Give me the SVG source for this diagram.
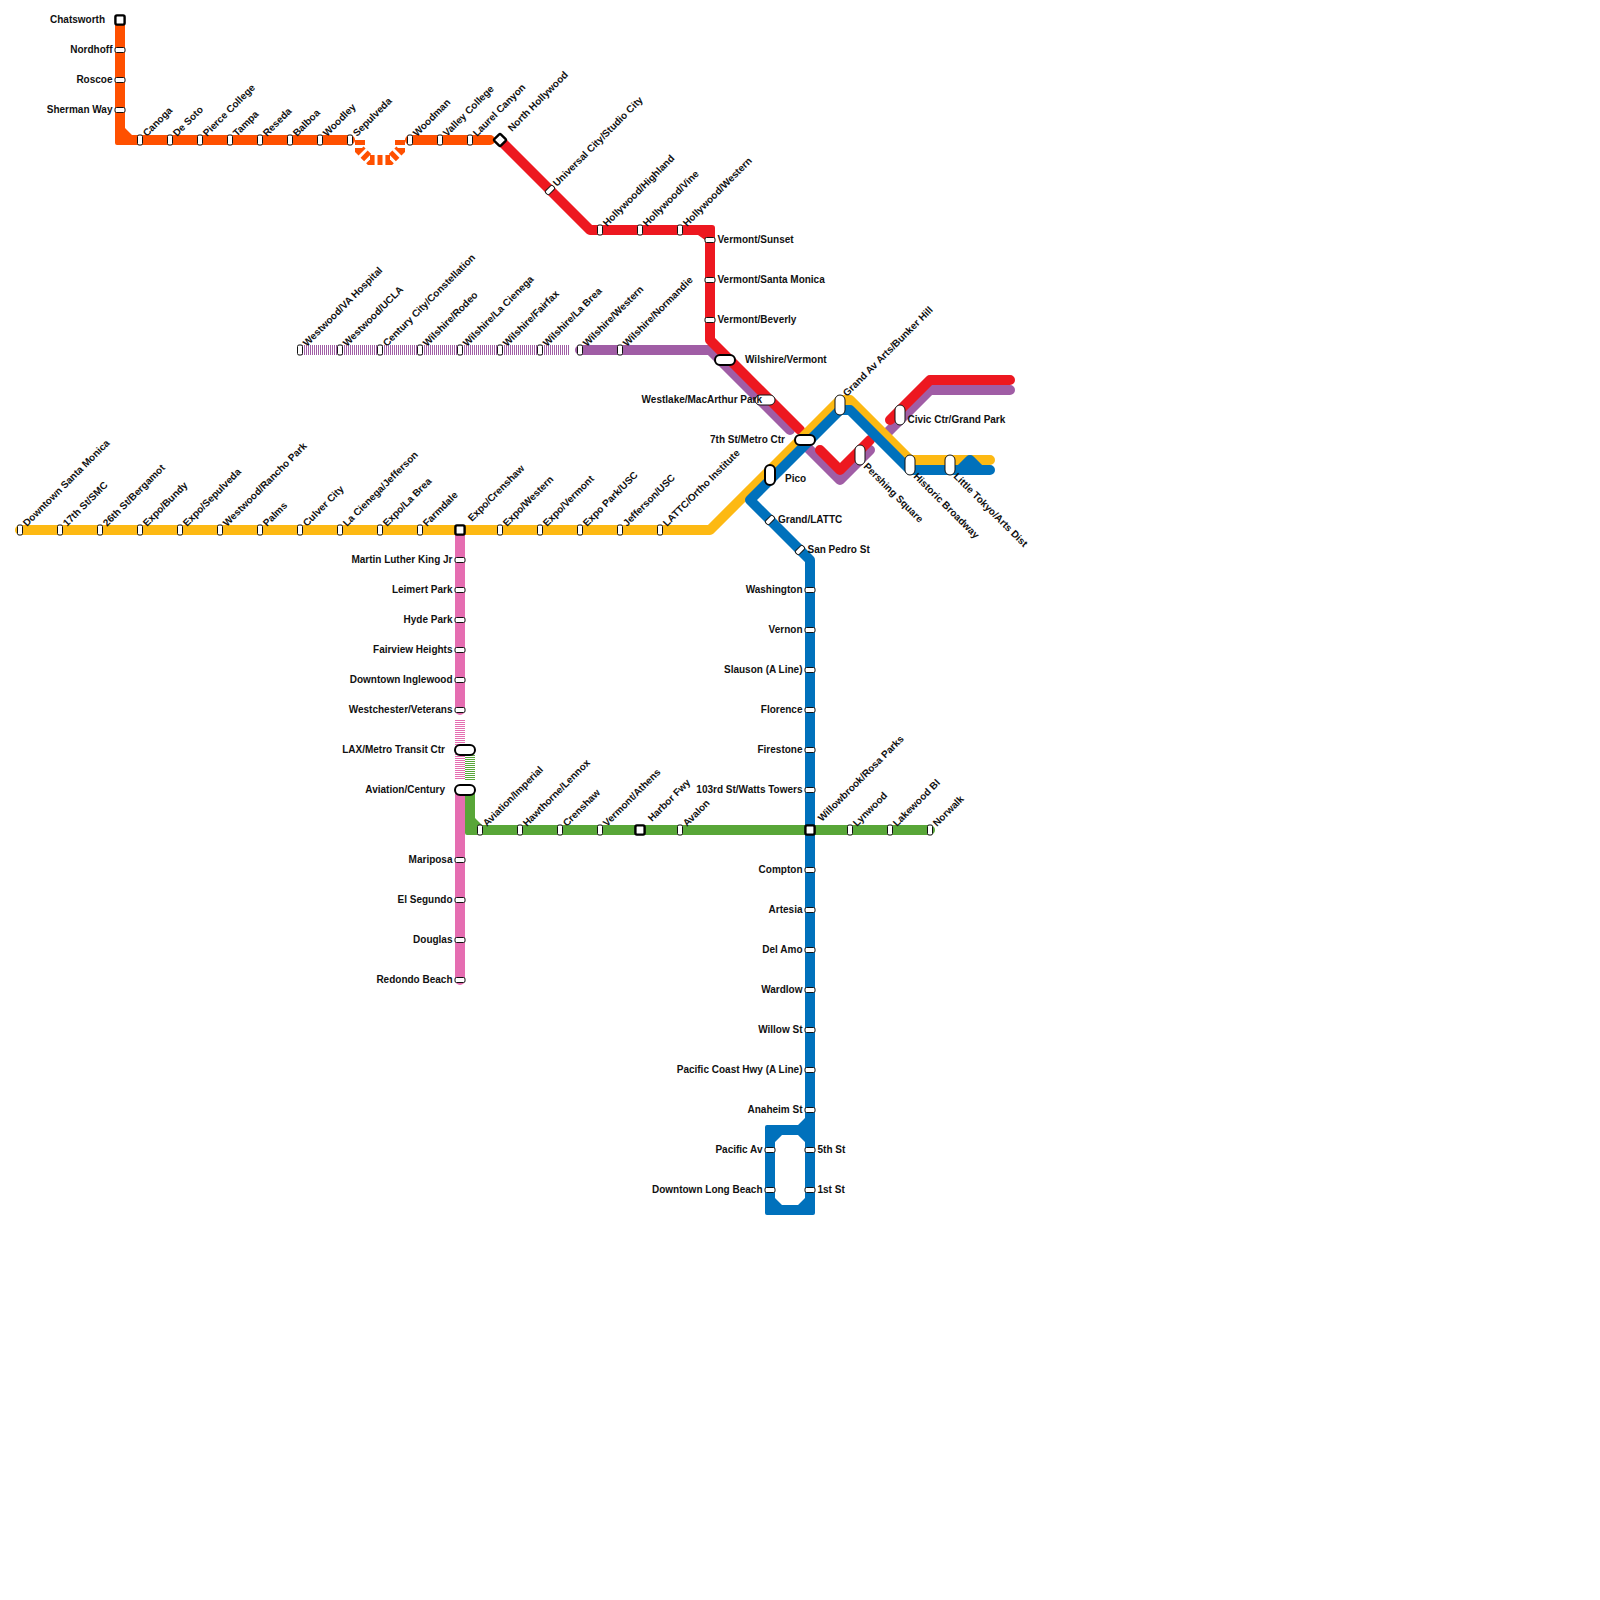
<svg xmlns="http://www.w3.org/2000/svg" width="1600" height="1600" viewBox="0 0 1600 1600">
<style>
text{font-family:"Liberation Sans",Arial,sans-serif;font-size:10px;font-weight:bold;fill:#111}
.e{text-anchor:end}
.ln{fill:none;stroke-width:10;stroke-linecap:round;stroke-linejoin:round}
.st{fill:#fff;stroke:#111;stroke-width:1}
.ic{fill:#fff;stroke:#000;stroke-width:2}
.sqr{fill:#fff;stroke:#000;stroke-width:2.4}
.dash{fill:none;stroke-width:10;stroke-dasharray:1 1}
</style>
<defs>
<rect id="v" class="st" x="-2.5" y="-5" width="5" height="10" rx="1.5"/>
<rect id="h" class="st" x="-5" y="-2.5" width="10" height="5" rx="1.5"/>
<rect id="d" class="st" x="-5" y="-2.5" width="10" height="5" rx="1.5" transform="rotate(-45)"/>
<rect id="sq" class="sqr" x="-4.6" y="-4.6" width="9.2" height="9.2" rx="1.5"/>
<rect id="tv" class="st" x="-5" y="-10" width="10" height="20" rx="5"/>
<rect id="th" class="st" x="-10" y="-5" width="20" height="10" rx="5"/>
<rect id="ihp" class="ic" x="-10" y="-5" width="20" height="10" rx="5"/>
<rect id="ivp" class="ic" x="-5" y="-10" width="10" height="20" rx="5"/>
</defs>
<g id="connectors">
<path class="ln" stroke="#a05da5" d="M580,350H710L790,430"/>
<path class="dash" stroke="#a05da5" d="M300,350H569"/>
<path class="ln" stroke="#a05da5" d="M800,440L840,480L870,450"/>
<path class="ln" stroke="#a05da5" d="M885,435L930,390H1010"/>
<path class="ln" stroke="#ed1820" d="M500,140L590,230H700"/>
<path fill="#ed1820" d="M700,225H712Q715,225 715,228V240H705L698,235H700Z"/>
<path class="ln" stroke="#ed1820" stroke-linecap="butt" d="M710,240V340L800,430"/>
<path class="ln" stroke="#ed1820" d="M820,450L840,470L870,440"/>
<path class="ln" stroke="#ed1820" d="M890,420L930,380H1010"/>
<path class="ln" stroke="#e56db1" d="M460,530V710"/>
<path class="dash" stroke="#e56db1" d="M460,720V780"/>
<path class="ln" stroke="#e56db1" d="M460,790V980"/>
<path class="dash" stroke="#58a638" d="M470,755V780"/>
<path fill="#58a638" d="M465,790H475V818L482,825H930A5,5 0 0 1 930,835H467Q465,835 465,833Z"/>
<path class="ln" stroke="#fdb913" d="M20,530H710L840,400H850L910,460H990"/>
<path class="ln" stroke="#0071bc" d="M990,470H910L850,410H840L750,500L810,560V825"/>
<path class="ln" stroke="#0071bc" stroke-linecap="butt" d="M810,835V1120"/>
<path class="ln" stroke="#0071bc" d="M960,470L970,460L980,470"/>
<path fill="#0071bc" fill-rule="evenodd" d="M767,1125H798L805,1118H815V1213Q815,1215 813,1215H767Q765,1215 765,1213V1127Q765,1125 767,1125ZM782,1135L775,1142V1198L782,1205H798L805,1198V1142L798,1135Z"/>
<path fill="#58a638" d="M800,825H820V835H800Z"/>
<path fill="#ff5000" d="M115,20H125V128L132,135H350A5,5 0 0 1 350,145H117Q115,145 115,143Z"/>
<path fill="none" stroke="#ff5000" stroke-width="10" stroke-dasharray="5 2.91" d="M360,140V150L370,160H390L400,150V140"/>
<path class="ln" stroke="#ff5000" d="M410,140H490"/>
</g>
<g id="orange-line-stations">
<g id="chatsworth"><use href="#sq" x="120" y="20"/><text class="e" x="105" y="22.5">Chatsworth</text></g>
<g id="nordhoff"><use href="#h" x="120" y="50"/><text class="e" x="112.5" y="52.5">Nordhoff</text></g>
<g id="roscoe"><use href="#h" x="120" y="80"/><text class="e" x="112.5" y="82.5">Roscoe</text></g>
<g id="sherman-way"><use href="#h" x="120" y="110"/><text class="e" x="112.5" y="112.5">Sherman Way</text></g>
<g id="canoga"><use href="#v" x="140" y="140"/><text transform="translate(147,137) rotate(-45)">Canoga</text></g>
<g id="de-soto"><use href="#v" x="170" y="140"/><text transform="translate(177,137) rotate(-45)">De Soto</text></g>
<g id="pierce-college"><use href="#v" x="200" y="140"/><text transform="translate(207,137) rotate(-45)">Pierce College</text></g>
<g id="tampa"><use href="#v" x="230" y="140"/><text transform="translate(237,137) rotate(-45)">Tampa</text></g>
<g id="reseda"><use href="#v" x="260" y="140"/><text transform="translate(267,137) rotate(-45)">Reseda</text></g>
<g id="balboa"><use href="#v" x="290" y="140"/><text transform="translate(297,137) rotate(-45)">Balboa</text></g>
<g id="woodley"><use href="#v" x="320" y="140"/><text transform="translate(327,137) rotate(-45)">Woodley</text></g>
<g id="sepulveda"><use href="#v" x="350" y="140"/><text transform="translate(357,137) rotate(-45)">Sepulveda</text></g>
<g id="woodman"><use href="#v" x="410" y="140"/><text transform="translate(417,137) rotate(-45)">Woodman</text></g>
<g id="valley-college"><use href="#v" x="440" y="140"/><text transform="translate(447,137) rotate(-45)">Valley College</text></g>
<g id="laurel-canyon"><use href="#v" x="470" y="140"/><text transform="translate(477,137) rotate(-45)">Laurel Canyon</text></g>
</g>
<g id="red-line-stations">
<g id="north-hollywood"><rect class="sqr" x="-4.6" y="-4.6" width="9.2" height="9.2" rx="1.5" transform="translate(500,140) rotate(45)"/><text transform="translate(512,132) rotate(-45)">North Hollywood</text></g>
<g id="universal-city"><use href="#d" x="550" y="190"/><text transform="translate(557,187) rotate(-45)">Universal City/Studio City</text></g>
<g id="hollywood-highland"><use href="#v" x="600" y="230"/><text transform="translate(607,227) rotate(-45)">Hollywood/Highland</text></g>
<g id="hollywood-vine"><use href="#v" x="640" y="230"/><text transform="translate(647,227) rotate(-45)">Hollywood/Vine</text></g>
<g id="hollywood-western"><use href="#v" x="680" y="230"/><text transform="translate(687,227) rotate(-45)">Hollywood/Western</text></g>
<g id="vermont-sunset"><use href="#h" x="710" y="240"/><text x="717.5" y="242.5">Vermont/Sunset</text></g>
<g id="vermont-santa-monica"><use href="#h" x="710" y="280"/><text x="717.5" y="282.5">Vermont/Santa Monica</text></g>
<g id="vermont-beverly"><use href="#h" x="710" y="320"/><text x="717.5" y="322.5">Vermont/Beverly</text></g>
<g id="wilshire-vermont"><use href="#ihp" x="725" y="360"/><text x="745" y="362.5">Wilshire/Vermont</text></g>
<g id="westlake"><use href="#th" x="765" y="400"/><text class="e" x="762" y="402.5">Westlake/MacArthur Park</text></g>
<g id="civic-center"><use href="#tv" x="900" y="415"/><text x="907.5" y="422.5">Civic Ctr/Grand Park</text></g>
<g id="pershing-square"><use href="#tv" x="860" y="455"/><text transform="translate(863,467) rotate(45)">Pershing Square</text></g>
</g>
<g id="purple-line-stations">
<g id="westwood-va"><use href="#v" x="300" y="350"/><text transform="translate(307,347) rotate(-45)">Westwood/VA Hospital</text></g>
<g id="westwood-ucla"><use href="#v" x="340" y="350"/><text transform="translate(347,347) rotate(-45)">Westwood/UCLA</text></g>
<g id="century-city"><use href="#v" x="380" y="350"/><text transform="translate(387,347) rotate(-45)">Century City/Constellation</text></g>
<g id="wilshire-rodeo"><use href="#v" x="420" y="350"/><text transform="translate(427,347) rotate(-45)">Wilshire/Rodeo</text></g>
<g id="wilshire-la-cienega"><use href="#v" x="460" y="350"/><text transform="translate(467,347) rotate(-45)">Wilshire/La Cienega</text></g>
<g id="wilshire-fairfax"><use href="#v" x="500" y="350"/><text transform="translate(507,347) rotate(-45)">Wilshire/Fairfax</text></g>
<g id="wilshire-la-brea"><use href="#v" x="540" y="350"/><text transform="translate(547,347) rotate(-45)">Wilshire/La Brea</text></g>
<g id="wilshire-western"><use href="#v" x="580" y="350"/><text transform="translate(587,347) rotate(-45)">Wilshire/Western</text></g>
<g id="wilshire-normandie"><use href="#v" x="620" y="350"/><text transform="translate(627,347) rotate(-45)">Wilshire/Normandie</text></g>
</g>
<g id="yellow-line-stations">
<g id="downtown-santa-monica"><use href="#v" x="20" y="530"/><text transform="translate(27,527) rotate(-45)">Downtown Santa Monica</text></g>
<g id="s17th"><use href="#v" x="60" y="530"/><text transform="translate(67,527) rotate(-45)">17th St/SMC</text></g>
<g id="s26th"><use href="#v" x="100" y="530"/><text transform="translate(107,527) rotate(-45)">26th St/Bergamot</text></g>
<g id="expo-bundy"><use href="#v" x="140" y="530"/><text transform="translate(147,527) rotate(-45)">Expo/Bundy</text></g>
<g id="expo-sepulveda"><use href="#v" x="180" y="530"/><text transform="translate(187,527) rotate(-45)">Expo/Sepulveda</text></g>
<g id="westwood-rancho"><use href="#v" x="220" y="530"/><text transform="translate(227,527) rotate(-45)">Westwood/Rancho Park</text></g>
<g id="palms"><use href="#v" x="260" y="530"/><text transform="translate(267,527) rotate(-45)">Palms</text></g>
<g id="culver-city"><use href="#v" x="300" y="530"/><text transform="translate(307,527) rotate(-45)">Culver City</text></g>
<g id="la-cienega"><use href="#v" x="340" y="530"/><text transform="translate(347,527) rotate(-45)">La Cienega/Jefferson</text></g>
<g id="expo-la-brea"><use href="#v" x="380" y="530"/><text transform="translate(387,527) rotate(-45)">Expo/La Brea</text></g>
<g id="farmdale"><use href="#v" x="420" y="530"/><text transform="translate(427,527) rotate(-45)">Farmdale</text></g>
<g id="expo-crenshaw"><use href="#sq" x="460" y="530"/><text transform="translate(472,522) rotate(-45)">Expo/Crenshaw</text></g>
<g id="expo-western"><use href="#v" x="500" y="530"/><text transform="translate(507,527) rotate(-45)">Expo/Western</text></g>
<g id="expo-vermont"><use href="#v" x="540" y="530"/><text transform="translate(547,527) rotate(-45)">Expo/Vermont</text></g>
<g id="expo-park"><use href="#v" x="580" y="530"/><text transform="translate(587,527) rotate(-45)">Expo Park/USC</text></g>
<g id="jefferson-usc"><use href="#v" x="620" y="530"/><text transform="translate(627,527) rotate(-45)">Jefferson/USC</text></g>
<g id="lattc"><use href="#v" x="660" y="530"/><text transform="translate(667,527) rotate(-45)">LATTC/Ortho Institute</text></g>
<g id="pico"><use href="#ivp" x="770" y="475"/><text x="785" y="481.5">Pico</text></g>
<g id="metro-center"><use href="#ihp" x="805" y="440"/><text class="e" x="785" y="442.5">7th St/Metro Ctr</text></g>
<g id="grand-av-arts"><use href="#tv" x="840" y="405"/><text transform="translate(847,397) rotate(-45)">Grand Av Arts/Bunker Hill</text></g>
<g id="historic-broadway"><use href="#tv" x="910" y="465"/><text transform="translate(913,477) rotate(45)">Historic Broadway</text></g>
<g id="little-tokyo"><use href="#tv" x="950" y="465"/><text transform="translate(953,477) rotate(45)">Little Tokyo/Arts Dist</text></g>
</g>
<g id="pink-line-stations">
<g id="mlk"><use href="#h" x="460" y="560"/><text class="e" x="452.5" y="562.5">Martin Luther King Jr</text></g>
<g id="leimert"><use href="#h" x="460" y="590"/><text class="e" x="452.5" y="592.5">Leimert Park</text></g>
<g id="hyde-park"><use href="#h" x="460" y="620"/><text class="e" x="452.5" y="622.5">Hyde Park</text></g>
<g id="fairview"><use href="#h" x="460" y="650"/><text class="e" x="452.5" y="652.5">Fairview Heights</text></g>
<g id="downtown-inglewood"><use href="#h" x="460" y="680"/><text class="e" x="452.5" y="682.5">Downtown Inglewood</text></g>
<g id="westchester"><use href="#h" x="460" y="710"/><text class="e" x="452.5" y="712.5">Westchester/Veterans</text></g>
<g id="lax"><use href="#ihp" x="465" y="750"/><text class="e" x="445" y="752.5">LAX/Metro Transit Ctr</text></g>
<g id="aviation-century"><use href="#ihp" x="465" y="790"/><text class="e" x="445" y="792.5">Aviation/Century</text></g>
<g id="mariposa"><use href="#h" x="460" y="860"/><text class="e" x="452.5" y="862.5">Mariposa</text></g>
<g id="el-segundo"><use href="#h" x="460" y="900"/><text class="e" x="452.5" y="902.5">El Segundo</text></g>
<g id="douglas"><use href="#h" x="460" y="940"/><text class="e" x="452.5" y="942.5">Douglas</text></g>
<g id="redondo"><use href="#h" x="460" y="980"/><text class="e" x="452.5" y="982.5">Redondo Beach</text></g>
</g>
<g id="green-line-stations">
<g id="aviation-imperial"><use href="#v" x="480" y="830"/><text transform="translate(487,827) rotate(-45)">Aviation/Imperial</text></g>
<g id="hawthorne"><use href="#v" x="520" y="830"/><text transform="translate(527,827) rotate(-45)">Hawthorne/Lennox</text></g>
<g id="crenshaw"><use href="#v" x="560" y="830"/><text transform="translate(567,827) rotate(-45)">Crenshaw</text></g>
<g id="vermont-athens"><use href="#v" x="600" y="830"/><text transform="translate(607,827) rotate(-45)">Vermont/Athens</text></g>
<g id="harbor-fwy"><use href="#sq" x="640" y="830"/><text transform="translate(652,822) rotate(-45)">Harbor Fwy</text></g>
<g id="avalon"><use href="#v" x="680" y="830"/><text transform="translate(687,827) rotate(-45)">Avalon</text></g>
<g id="lynwood"><use href="#v" x="850" y="830"/><text transform="translate(857,827) rotate(-45)">Lynwood</text></g>
<g id="lakewood"><use href="#v" x="890" y="830"/><text transform="translate(897,827) rotate(-45)">Lakewood Bl</text></g>
<g id="norwalk"><use href="#v" x="930" y="830"/><text transform="translate(937,827) rotate(-45)">Norwalk</text></g>
</g>
<g id="blue-line-stations">
<g id="grand-lattc"><use href="#d" x="770" y="520"/><text x="778" y="522.5">Grand/LATTC</text></g>
<g id="san-pedro"><use href="#d" x="800" y="550"/><text x="807.5" y="552.5">San Pedro St</text></g>
<g id="washington"><use href="#h" x="810" y="590"/><text class="e" x="802.5" y="592.5">Washington</text></g>
<g id="vernon"><use href="#h" x="810" y="630"/><text class="e" x="802.5" y="632.5">Vernon</text></g>
<g id="slauson"><use href="#h" x="810" y="670"/><text class="e" x="802.5" y="672.5">Slauson (A Line)</text></g>
<g id="florence"><use href="#h" x="810" y="710"/><text class="e" x="802.5" y="712.5">Florence</text></g>
<g id="firestone"><use href="#h" x="810" y="750"/><text class="e" x="802.5" y="752.5">Firestone</text></g>
<g id="s103rd"><use href="#h" x="810" y="790"/><text class="e" x="802.5" y="792.5">103rd St/Watts Towers</text></g>
<g id="willowbrook"><use href="#sq" x="810" y="830"/><text transform="translate(822,822) rotate(-45)">Willowbrook/Rosa Parks</text></g>
<g id="compton"><use href="#h" x="810" y="870"/><text class="e" x="802.5" y="872.5">Compton</text></g>
<g id="artesia"><use href="#h" x="810" y="910"/><text class="e" x="802.5" y="912.5">Artesia</text></g>
<g id="del-amo"><use href="#h" x="810" y="950"/><text class="e" x="802.5" y="952.5">Del Amo</text></g>
<g id="wardlow"><use href="#h" x="810" y="990"/><text class="e" x="802.5" y="992.5">Wardlow</text></g>
<g id="willow-st"><use href="#h" x="810" y="1030"/><text class="e" x="802.5" y="1032.5">Willow St</text></g>
<g id="pch"><use href="#h" x="810" y="1070"/><text class="e" x="802.5" y="1072.5">Pacific Coast Hwy (A Line)</text></g>
<g id="anaheim"><use href="#h" x="810" y="1110"/><text class="e" x="802.5" y="1112.5">Anaheim St</text></g>
<g id="fifth-st"><use href="#h" x="810" y="1150"/><text x="817.5" y="1152.5">5th St</text></g>
<g id="first-st"><use href="#h" x="810" y="1190"/><text x="817.5" y="1192.5">1st St</text></g>
<g id="pacific-av"><use href="#h" x="770" y="1150"/><text class="e" x="762.5" y="1152.5">Pacific Av</text></g>
<g id="downtown-long-beach"><use href="#h" x="770" y="1190"/><text class="e" x="762.5" y="1192.5">Downtown Long Beach</text></g>
</g>
</svg>
